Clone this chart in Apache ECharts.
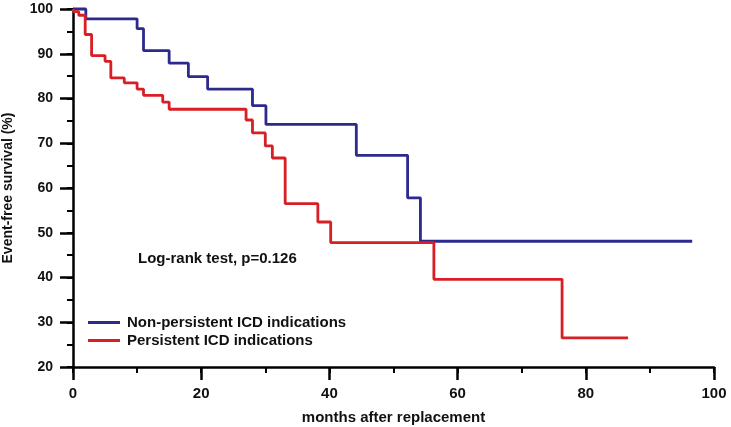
<!DOCTYPE html>
<html>
<head>
<meta charset="utf-8">
<script src="https://cdn.jsdelivr.net/npm/echarts@6/dist/echarts.min.js"></script>
<style>
html,body{margin:0;padding:0;background:#fff;}
#main{width:731px;height:427px;}
</style>
</head>
<body>
<div id="main"></div>
<script>
// Kaplan-Meier step points: [month, survival %]
var nonPersistentMonths = [0, 2.0, 10.0, 11.0, 15.0, 18.0, 21.0, 28.0, 30.1, 44.2, 52.2, 54.2, 96.6];
var nonPersistentSurv   = [100, 97.8, 95.6, 90.7, 87.9, 84.9, 82.1, 78.4, 74.2, 67.3, 57.8, 48.1, 48.1];
var persistentMonths = [0, 0.1, 0.9, 1.9, 2.9, 5.0, 5.9, 8.0, 10.0, 11.0, 14.0, 15.0, 27.0, 28.0, 30.0, 31.1, 33.1, 38.2, 40.2, 56.3, 76.3, 86.6];
var persistentSurv   = [100, 99.4, 98.6, 94.3, 89.6, 88.3, 84.6, 83.5, 82.1, 80.7, 79.2, 77.6, 75.2, 72.3, 69.4, 66.7, 56.5, 52.4, 47.8, 39.6, 26.5, 26.5];
var seriesNames = ['Non-persistent ICD indications', 'Persistent ICD indications'];
var xTicks = [0, 20, 40, 60, 80, 100];
var yTicks = [20, 30, 40, 50, 60, 70, 80, 90, 100];
var annotation = 'Log-rank test, p=0.126';

function pairs(xs, ys){ return xs.map(function(x,i){ return [x, ys[i]]; }); }

var FONT = '"Liberation Sans", Arial, sans-serif';
var xMin = xTicks[0], xMax = xTicks[xTicks.length-1];
var yMin = yTicks[0], yMax = yTicks[yTicks.length-1];
var gridBox = {left: 73, right: 17, top: 9, bottom: 60, containLabel: false, outerBoundsMode: 'none'};

var chart = echarts.init(document.getElementById('main'));
chart.setOption({
  animation: false,
  backgroundColor: '#fff',
  grid: [Object.assign({}, gridBox), Object.assign({}, gridBox)],
  xAxis: [{
    gridIndex: 1, type: 'value', min: xMin, max: xMax, interval: 10, position: 'bottom',
    axisLine: {show: false},
    axisTick: {show: true, length: 6, lineStyle: {color: '#000', width: 2}},
    axisLabel: {show: false}, splitLine: {show: false}
  }, {
    gridIndex: 0, type: 'value', min: xMin, max: xMax, interval: 20, position: 'bottom',
    name: 'months after replacement', nameLocation: 'middle', nameGap: 43,
    nameTextStyle: {fontFamily: FONT, fontWeight: 'bold', fontSize: 15, color: '#111'},
    axisLine: {show: true, lineStyle: {color: '#000', width: 2.5}},
    axisTick: {show: true, length: 13, lineStyle: {color: '#000', width: 2.5}},
    axisLabel: {margin: 19, fontFamily: FONT, fontWeight: 'bold', fontSize: 15, color: '#111'},
    splitLine: {show: false}
  }],
  yAxis: [{
    gridIndex: 1, type: 'value', min: yMin, max: yMax, interval: 5, position: 'left',
    axisLine: {show: false},
    axisTick: {show: true, length: 6, lineStyle: {color: '#000', width: 2}},
    axisLabel: {show: false}, splitLine: {show: false}
  }, {
    gridIndex: 0, type: 'value', min: yMin, max: yMax, interval: 10, position: 'left',
    name: 'Event-free survival (%)', nameLocation: 'middle', nameGap: 58,
    nameTextStyle: {fontFamily: FONT, fontWeight: 'bold', fontSize: 14, color: '#111'},
    axisLine: {show: true, lineStyle: {color: '#000', width: 2.5}},
    axisTick: {show: true, length: 13, lineStyle: {color: '#000', width: 2.5}},
    axisLabel: {margin: 20, fontFamily: FONT, fontWeight: 'bold', fontSize: 14, color: '#111'},
    splitLine: {show: false}
  }],
  legend: {
    left: 88, top: 315, orient: 'vertical', itemGap: 3, padding: 0,
    itemWidth: 32, itemHeight: 3, icon: 'rect',
    textStyle: {fontFamily: FONT, fontWeight: 'bold', fontSize: 15, color: '#111', padding: [0,0,0,2]},
    data: seriesNames
  },
  graphic: [{
    type: 'text', left: 138, top: 251,
    style: {text: annotation, font: 'bold 15px ' + FONT, fill: '#111'}
  }],
  series: [
    {name: seriesNames[0], type: 'line', step: 'end', showSymbol: false, clip: false,
     xAxisIndex: 1, yAxisIndex: 1,
     data: pairs(nonPersistentMonths, nonPersistentSurv),
     color: '#2d2a8e', lineStyle: {color: '#2d2a8e', width: 2.8}},
    {name: seriesNames[1], type: 'line', step: 'end', showSymbol: false, clip: false,
     xAxisIndex: 1, yAxisIndex: 1,
     data: pairs(persistentMonths, persistentSurv),
     color: '#d81f26', lineStyle: {color: '#d81f26', width: 2.8}}
  ]
});
</script>
</body>
</html>
